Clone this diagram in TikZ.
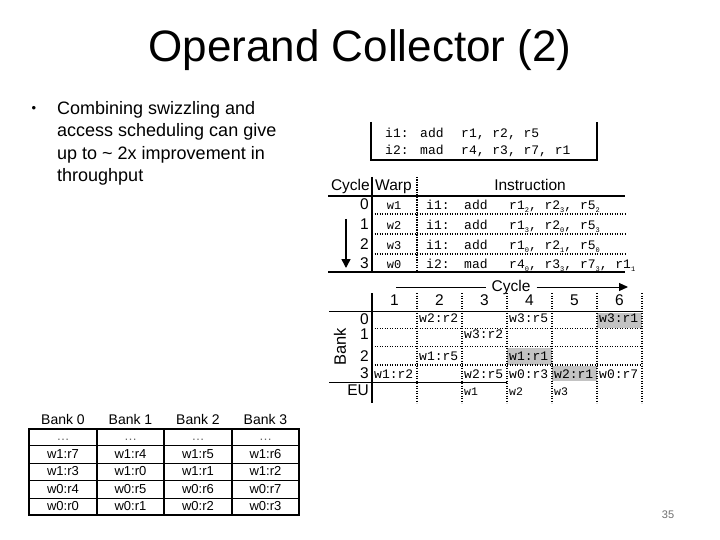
\documentclass[tikz,border=0pt]{standalone}
\usepackage{fontspec}
\setmainfont{Liberation Sans}
\newfontfamily\codefont{Liberation Mono}
\usetikzlibrary{arrows.meta}
\definecolor{cellgray}{RGB}{195,195,195}
\definecolor{pagenum}{RGB}{110,110,110}
\newcommand\subidx[1]{\raisebox{-0.45ex}{\fontsize{7}{7}\selectfont#1}}
\begin{document}
\begin{tikzpicture}[x=1pt,y=-1pt,
  title/.style={font=\fontsize{44}{50}\selectfont, anchor=base, inner sep=0},
  body/.style={font=\fontsize{18}{22}\selectfont, anchor=base west, inner sep=0},
  code/.style={font=\codefont\fontsize{13}{15}\selectfont, anchor=base west, inner sep=0},
  icode/.style={font=\codefont\fontsize{13}{15}\selectfont, anchor=base west, inner sep=0},
  wcode/.style={font=\codefont\fontsize{12}{15}\selectfont, anchor=base, inner sep=0},
  hdr/.style={font=\fontsize{15.5}{17}\selectfont, inner sep=0},
  cell/.style={font=\codefont\fontsize{13}{15}\selectfont, anchor=base west, inner sep=0},
  btxt/.style={font=\fontsize{13}{15}\selectfont, anchor=base, inner sep=0},
  rule/.style={line width=1.8pt},
  dotrule/.style={line width=1.3pt, dash pattern=on 1.3pt off 1.2pt},
  thinrule/.style={line width=0.8pt},
]
\useasboundingbox (0,0) rectangle (720,540);

% title
\node[title] (title) at (360,62) {Operand Collector (2)};

% bullet text
\node[body, anchor=base, font=\fontsize{13}{15}\selectfont] (bul) at (34,113) {•};
\node[body] (b1) at (57,114.5) {Combining swizzling and};
\node[body] (b2) at (57,137) {access scheduling can give};
\node[body] (b3) at (57,159.5) {up to \textasciitilde\ 2x improvement in};
\node[body] (b4) at (57,182) {throughput};

% top code box
\draw[rule] (371,122) -- (371,160) -- (597,160) -- (597,122);
\node[code] (p1a) at (385,138) {i1:};
\node[code] (p1b) at (420,138) {add};
\node[code] (p1c) at (461,138) {r1, r2, r5};
\node[code] (p2a) at (385,155) {i2:};
\node[code] (p2b) at (420,155) {mad};
\node[code] (p2c) at (461,155) {r4, r3, r7, r1};

% warp table
\node[hdr, anchor=base east] (hcyc) at (370,191) {Cycle};
\node[hdr, anchor=base west] (hwarp) at (375,191) {Warp};
\node[hdr, anchor=base] (hinst) at (530,191) {Instruction};
\draw[rule] (328,196) -- (625,196);
\draw[rule] (328,272) -- (625,272);
\draw[line width=1.5pt] (372,177) -- (372,272);
\draw[dotrule] (417,177) -- (417,272);
\draw[dotrule] (372,214) -- (625,214);
\draw[dotrule] (372,234) -- (625,234);
\draw[dotrule] (372,254) -- (625,254);
\coordinate (atop) at (346,219);
\coordinate (abot) at (346,268);
\draw[line width=1.5pt, -{Triangle[length=9pt,width=9pt]}] (atop) -- (abot);

\node[hdr, anchor=base east] (c0) at (369,209.5) {0};
\node[hdr, anchor=base east] (c1) at (369,229.5) {1};
\node[hdr, anchor=base east] (c2) at (369,249.5) {2};
\node[hdr, anchor=base east] (c3) at (369,268) {3};

\node[wcode] (w0r) at (394,209.5) {w1};
\node[wcode] (w1r) at (394,229.5) {w2};
\node[wcode] (w2r) at (394,249.5) {w3};
\node[wcode] (w3r) at (394,268) {w0};

\node[icode] (q0a) at (426,209.5) {i1:};
\node[icode] (q0b) at (464,209.5) {add};
\node[icode] (q0c) at (509,209.5) {r1\subidx{2}, r2\subidx{3}, r5\subidx{2}};
\node[icode] (q1a) at (426,229.5) {i1:};
\node[icode] (q1b) at (464,229.5) {add};
\node[icode] (q1c) at (509,229.5) {r1\subidx{3}, r2\subidx{0}, r5\subidx{3}};
\node[icode] (q2a) at (426,249.5) {i1:};
\node[icode] (q2b) at (464,249.5) {add};
\node[icode] (q2c) at (509,249.5) {r1\subidx{0}, r2\subidx{1}, r5\subidx{0}};
\node[icode] (q3a) at (426,268) {i2:};
\node[icode] (q3b) at (464,268) {mad};
\node[icode] (q3c) at (509,268) {r4\subidx{0}, r3\subidx{3}, r7\subidx{3}, r1\subidx{1}};

% bank / cycle schedule
\node[hdr] (cyclab) at (511,287) {Cycle};
\coordinate (cl) at (396,287);
\coordinate (cr) at (628,287);
\draw[line width=1pt] (cl) -- ([xshift=-5pt]cyclab.west);
\draw[line width=1pt, -{Triangle[length=9pt,width=8pt]}] ([xshift=6pt]cyclab.east) -- (cr);

\foreach \k/\cx in {1/394.5,2/439.5,3/484.5,4/529.5,5/574.5,6/619.5}
  \node[hdr, anchor=base] (col\k) at (\cx,305) {\k};

\fill[cellgray] (597,313) rectangle (642,328);
\fill[cellgray] (507,347.5) rectangle (552,364.5);
\fill[cellgray] (552,366) rectangle (597,381);

\draw[rule] (329,311.5) -- (642,311.5);
\draw[rule] (329,382.5) -- (507,382.5);
\draw[line width=1.5pt] (372,293) -- (372,403);
\foreach \xx in {417,462,507,552,597,642}
  \draw[dotrule] (\xx,293) -- (\xx,403);
\draw[dotrule] (372,328.5) -- (642,328.5);
\draw[dotrule] (372,346.5) -- (642,346.5);
\draw[dotrule] (372,365) -- (642,365);

\node[hdr, anchor=base east] (k0) at (369,324) {0};
\node[hdr, anchor=base east] (k1) at (369,339) {1};
\node[hdr, anchor=base east] (k2) at (369,361) {2};
\node[hdr, anchor=base east] (k3) at (369,378.5) {3};
\node[hdr, anchor=base east] (keu) at (369,395.5) {EU};
\node[hdr, rotate=90, font=\fontsize{16.5}{18}\selectfont] (banklab) at (340,347) {Bank};

\node[cell] (s02) at (419,322.5) {w2:r2};
\node[cell] (s04) at (509,322.5) {w3:r5};
\node[cell] (s06) at (599,322.5) {w3:r1};
\node[cell] (s13) at (464,338) {w3:r2};
\node[cell] (s22) at (419,360) {w1:r5};
\node[cell] (s24) at (509,360) {w1:r1};
\node[cell] (s31) at (374,378) {w1:r2};
\node[cell] (s33) at (464,378) {w2:r5};
\node[cell] (s34) at (509,378) {w0:r3};
\node[cell] (s35) at (554,378) {w2:r1};
\node[cell] (s36) at (599,378) {w0:r7};
\node[cell, font=\codefont\fontsize{11.5}{13}\selectfont] (e3) at (464,395.5) {w1};
\node[cell, font=\codefont\fontsize{11.5}{13}\selectfont] (e4) at (509,395.5) {w2};
\node[cell, font=\codefont\fontsize{11.5}{13}\selectfont] (e5) at (554,395.5) {w3};

% register bank table
\foreach \k/\cx in {0/63,1/130.5,2/198,3/265.5}
  \node[btxt, font=\fontsize{14}{15}\selectfont] (bh\k) at (\cx,424) {Bank \k};
\draw[thinrule] (29,445) -- (299,445);
\draw[thinrule] (29,463) -- (299,463);
\draw[thinrule] (29,480.5) -- (299,480.5);
\draw[thinrule] (29,498) -- (299,498);
\draw[line width=2pt] (97,429) -- (97,515);
\draw[line width=2pt] (164,429) -- (164,515);
\draw[line width=2pt] (232,429) -- (232,515);
\draw[line width=2pt] (29,429) rectangle (299,515);
\foreach \k/\cx in {0/63,1/130.5,2/198,3/265.5}
  \node[btxt, text=black!60] (bd\k) at (\cx,440) {\dots};
\node[btxt] (m10) at (63,458) {w1:r7};
\node[btxt] (m11) at (130.5,458) {w1:r4};
\node[btxt] (m12) at (198,458) {w1:r5};
\node[btxt] (m13) at (265.5,458) {w1:r6};
\node[btxt] (m20) at (63,475.5) {w1:r3};
\node[btxt] (m21) at (130.5,475.5) {w1:r0};
\node[btxt] (m22) at (198,475.5) {w1:r1};
\node[btxt] (m23) at (265.5,475.5) {w1:r2};
\node[btxt] (m30) at (63,493) {w0:r4};
\node[btxt] (m31) at (130.5,493) {w0:r5};
\node[btxt] (m32) at (198,493) {w0:r6};
\node[btxt] (m33) at (265.5,493) {w0:r7};
\node[btxt] (m40) at (63,510.5) {w0:r0};
\node[btxt] (m41) at (130.5,510.5) {w0:r1};
\node[btxt] (m42) at (198,510.5) {w0:r2};
\node[btxt] (m43) at (265.5,510.5) {w0:r3};

% page number
\node[font=\fontsize{11}{12}\selectfont, text=pagenum] (pg) at (668,515) {35};
\end{tikzpicture}
\end{document}
